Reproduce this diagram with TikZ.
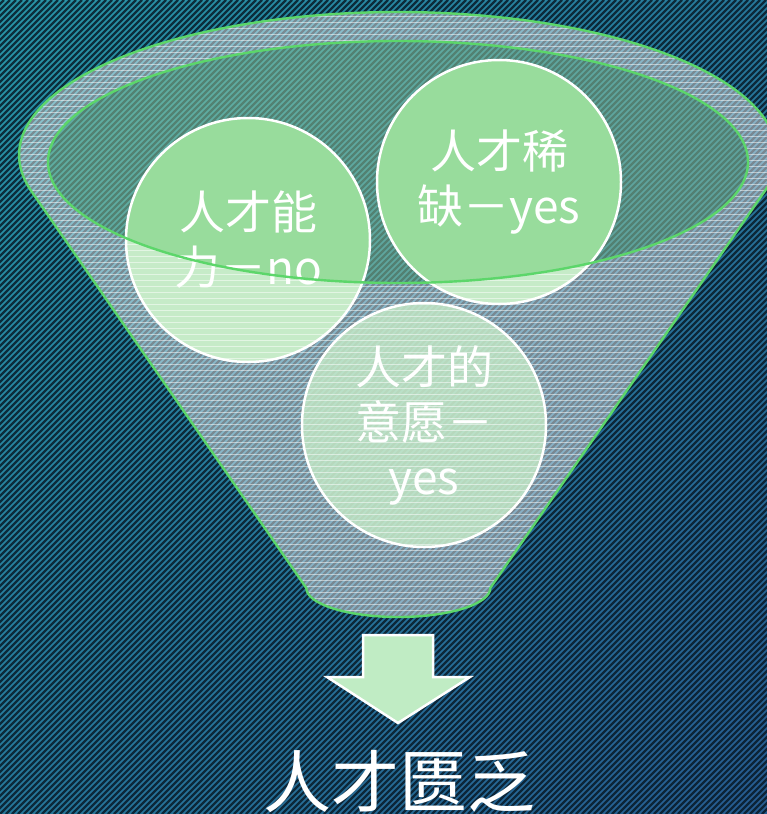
\documentclass[tikz,border=0pt]{standalone}
\usepackage{fontspec}
\newfontfamily\cjk{Noto Sans CJK SC}
\usetikzlibrary{shadings}
\definecolor{bgA}{RGB}{40,150,168}
\definecolor{bgM}{RGB}{38,120,155}
\definecolor{bgB}{RGB}{38,92,145}
\definecolor{stripe}{RGB}{6,22,34}
\definecolor{fgreen}{RGB}{92,214,106}
\definecolor{cgreen}{RGB}{152,220,156}
\definecolor{egreen}{RGB}{140,200,160}
\definecolor{agreen}{RGB}{192,236,196}
\tikzset{
  circ/.style={circle, minimum size=244pt, inner sep=0pt, fill=cgreen, draw=white, line width=2.5pt,
    text=white, align=center, font=\cjk\fontsize{46}{55}\selectfont},
  outline/.style={draw=fgreen, line width=2.4pt},
  title/.style={text=white, font=\cjk\fontsize{68}{70}\selectfont, inner sep=0pt},
}
\def\funnelpath{(764.7,191.2) arc[start angle=14.65, end angle=-194.65, x radius=379, y radius=143] -- (306.3,588) arc[start angle=180, end angle=0, x radius=92, y radius=29] -- cycle}
\def\innerell{(398,162) ellipse[x radius=350, y radius=121]}
\begin{document}
\begin{tikzpicture}[x=1pt, y=-1pt]
\useasboundingbox (0,0) rectangle (767,814);
% background
\shade[upper left=bgA, upper right=bgM, lower left=bgM, lower right=bgB] (0,0) rectangle (767,814);
\begin{scope}
\clip (0,0) rectangle (767,814);
\foreach \a in {-822,-816,...,770} \draw[stripe, opacity=0.8, line width=2.2pt] (\a,814) -- (\a+814,0);
\end{scope}
% inner ellipse fill
\fill[egreen, opacity=0.55] \innerell;
% circles
\node[circ] (c1) at (248,240) {人才能\\力－no};
\node[circ] (c2) at (499,182) {人才稀\\缺－yes};
\node[circ, fill opacity=0.8, text opacity=1] (c3) at (424,425) {人才的\\意愿－\\yes};
% funnel body overlay
\fill[white, opacity=0.45, even odd rule] \funnelpath \innerell;
\begin{scope}[even odd rule]
\clip \funnelpath \innerell;
\foreach \y in {10,16,...,622} \draw[white, opacity=0.5, line width=0.8pt] (0,\y) -- (767,\y);
\end{scope}
% outlines
\draw[outline] \funnelpath;
\draw[outline] \innerell;
% arrow
\draw[fill=agreen, draw=white, line width=2.5pt, line join=miter]
  (363,635) -- (433,635) -- (433,677) -- (470,677) -- (398,723) -- (327,677) -- (363,677) -- cycle;
\node[title] (res) at (399,781) {人才匮乏};
\end{tikzpicture}
\end{document}
